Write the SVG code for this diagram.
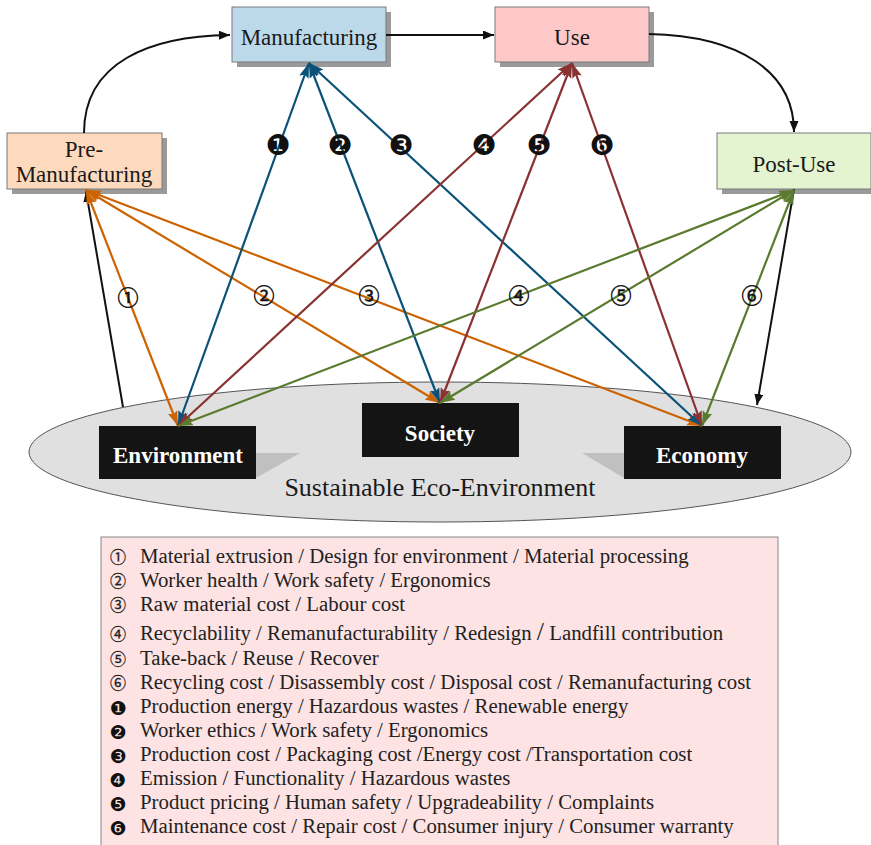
<svg xmlns="http://www.w3.org/2000/svg" width="871" height="845" viewBox="0 0 871 845">
  <style>
    .box { stroke: #7a7a7a; stroke-width: 1; }
    .shadow { fill: #9a9a9a; }
    .lbl { font-family: "Liberation Serif", "Times New Roman", serif; font-size: 23px; fill: #1a1a1a; text-anchor: middle; }
    .pillar { fill: #141414; }
    .pillar-lbl { font-family: "Liberation Serif", "Times New Roman", serif; font-size: 23px; font-weight: bold; fill: #ffffff; text-anchor: middle; }
    .flow { fill: none; stroke: #111111; stroke-width: 2; }
    .or { fill: none; stroke: #cc6200; stroke-width: 2.2; marker-start: url(#ah-or); marker-end: url(#ah-or); }
    .bl { fill: none; stroke: #0b5278; stroke-width: 2.2; marker-start: url(#ah-bl); marker-end: url(#ah-bl); }
    .rd { fill: none; stroke: #8a3232; stroke-width: 2.2; marker-start: url(#ah-rd); marker-end: url(#ah-rd); }
    .gr { fill: none; stroke: #5a7a2e; stroke-width: 2.2; marker-start: url(#ah-gr); marker-end: url(#ah-gr); }
    .num-o { font-family: "Noto Sans CJK JP", "DejaVu Sans", sans-serif; font-size: 21px; fill: #111111; stroke: #111111; stroke-width: 0.5; text-anchor: middle; }
    .num-f { font-family: "DejaVu Sans", "Noto Sans CJK JP", sans-serif; font-size: 28px; fill: #111111; text-anchor: middle; }
    .leg { font-family: "Liberation Serif", "Times New Roman", serif; font-size: 20.8px; fill: #222222; }
    .leg-o { font-family: "Noto Sans CJK JP", "DejaVu Sans", sans-serif; font-size: 16px; fill: #222222; stroke: #222222; stroke-width: 0.3; text-anchor: middle; }
    .leg-f { font-family: "DejaVu Sans", "Noto Sans CJK JP", sans-serif; font-size: 19px; fill: #111111; text-anchor: middle; }
  </style>
  <defs>
    <marker id="ah-k" markerUnits="userSpaceOnUse" markerWidth="12" markerHeight="10" refX="11" refY="4.5" orient="auto-start-reverse">
      <path d="M0,0 L11,4.5 L0,9 Z" fill="#111111"/>
    </marker>
    <marker id="ah-or" markerUnits="userSpaceOnUse" markerWidth="16" markerHeight="11" refX="15" refY="5" orient="auto-start-reverse">
      <path d="M0,0 L15,5 L0,10 L2.5,5 Z" fill="#cc6200"/>
    </marker>
    <marker id="ah-bl" markerUnits="userSpaceOnUse" markerWidth="16" markerHeight="11" refX="15" refY="5" orient="auto-start-reverse">
      <path d="M0,0 L15,5 L0,10 L2.5,5 Z" fill="#0b5278"/>
    </marker>
    <marker id="ah-rd" markerUnits="userSpaceOnUse" markerWidth="16" markerHeight="11" refX="15" refY="5" orient="auto-start-reverse">
      <path d="M0,0 L15,5 L0,10 L2.5,5 Z" fill="#8a3232"/>
    </marker>
    <marker id="ah-gr" markerUnits="userSpaceOnUse" markerWidth="16" markerHeight="11" refX="15" refY="5" orient="auto-start-reverse">
      <path d="M0,0 L15,5 L0,10 L2.5,5 Z" fill="#5a7a2e"/>
    </marker>
  </defs>

  <rect width="871" height="845" fill="#ffffff"/>

  <!-- eco-environment base -->
  <g id="eco-environment">
    <ellipse cx="440" cy="452" rx="411" ry="70" fill="#e0e0e0" stroke="#555555" stroke-width="1"/>
    <text class="lbl" x="440" y="496" style="font-size:26px">Sustainable Eco-Environment</text>
  </g>

  <!-- life-cycle stages -->
  <g id="pre-manufacturing">
    <rect class="shadow" x="12" y="138" width="155" height="56"/>
    <rect class="box" x="7" y="133" width="155" height="56" fill="#fdd9bd"/>
    <text class="lbl" x="84" y="157">Pre-</text>
    <text class="lbl" x="84" y="182">Manufacturing</text>
  </g>
  <g id="manufacturing">
    <rect class="shadow" x="237" y="12" width="154" height="55"/>
    <rect class="box" x="232" y="7" width="154" height="55" fill="#bcd9ea"/>
    <text class="lbl" x="309" y="45">Manufacturing</text>
  </g>
  <g id="use">
    <rect class="shadow" x="500" y="12" width="154" height="55"/>
    <rect class="box" x="495" y="7" width="154" height="55" fill="#ffc8c8"/>
    <text class="lbl" x="572" y="45">Use</text>
  </g>
  <g id="post-use">
    <rect class="shadow" x="722" y="138" width="154" height="56"/>
    <rect class="box" x="717" y="133" width="154" height="56" fill="#e4f3d0"/>
    <text class="lbl" x="794" y="172">Post-Use</text>
  </g>

  <!-- sustainability pillars -->
  <g id="environment">
    <polygon points="256,453 300,453 256,478" fill="#c0c0c0"/>
    <rect class="pillar" x="99" y="426" width="157" height="53"/>
    <text class="pillar-lbl" x="178" y="463">Environment</text>
  </g>
  <g id="society">
    <rect class="pillar" x="362" y="403" width="157" height="54"/>
    <text class="pillar-lbl" x="440" y="441">Society</text>
  </g>
  <g id="economy">
    <polygon points="582,453 624,453 624,478" fill="#c0c0c0"/>
    <rect class="pillar" x="624" y="426" width="157" height="53"/>
    <text class="pillar-lbl" x="702" y="463">Economy</text>
  </g>

  <!-- connectors -->
  <g id="connectors">
    <!-- life-cycle flow -->
    <path class="flow" d="M84,133 C84,62 150,36 230,35" marker-end="url(#ah-k)"/>
    <path class="flow" d="M386,35 L494,35" marker-end="url(#ah-k)"/>
    <path class="flow" d="M649,34 C740,36 794,72 794,132" marker-end="url(#ah-k)"/>
    <path class="flow" d="M794,189 L757,405" marker-end="url(#ah-k)"/>
    <path class="flow" d="M123,407 L86,191" marker-end="url(#ah-k)"/>

    <!-- pre-manufacturing links -->
    <path class="or" d="M86,190 L178,426"/>
    <path class="or" d="M86,190 L440,403"/>
    <path class="or" d="M86,190 L702,426"/>
    <!-- manufacturing links -->
    <path class="bl" d="M309,63 L178,426"/>
    <path class="bl" d="M309,63 L440,403"/>
    <path class="bl" d="M309,63 L702,426"/>
    <!-- use links -->
    <path class="rd" d="M572,63 L178,426"/>
    <path class="rd" d="M572,63 L440,403"/>
    <path class="rd" d="M572,63 L702,426"/>
    <!-- post-use links -->
    <path class="gr" d="M794,190 L178,426"/>
    <path class="gr" d="M794,190 L440,403"/>
    <path class="gr" d="M794,190 L702,426"/>
  </g>

  <!-- link labels -->
  <g id="link-labels">
    <text class="num-f" x="278" y="155">❶</text>
    <text class="num-f" x="340" y="155">❷</text>
    <text class="num-f" x="401" y="155">❸</text>
    <text class="num-f" x="484" y="155">❹</text>
    <text class="num-f" x="539" y="155">❺</text>
    <text class="num-f" x="602" y="155">❻</text>
    <text class="num-o" x="128" y="305">①</text>
    <text class="num-o" x="264" y="303">②</text>
    <text class="num-o" x="369" y="303">③</text>
    <text class="num-o" x="519" y="303">④</text>
    <text class="num-o" x="621" y="303">⑤</text>
    <text class="num-o" x="752" y="303">⑥</text>
  </g>

  <!-- legend -->
  <g id="legend">
    <rect x="101" y="537" width="677" height="320" fill="#fde3e3" stroke="#888888" stroke-width="1"/>
    <text class="leg-o" x="118" y="563">①</text>
    <text class="leg" x="140" y="563">Material extrusion / Design for environment / Material processing</text>
    <text class="leg-o" x="118" y="587">②</text>
    <text class="leg" x="140" y="587">Worker health / Work safety / Ergonomics</text>
    <text class="leg-o" x="118" y="611">③</text>
    <text class="leg" x="140" y="611">Raw material cost / Labour cost</text>
    <text class="leg-o" x="118" y="640">④</text>
    <text class="leg" x="140" y="640">Recyclability / Remanufacturability / Redesign <tspan style="font-size:26px">/</tspan> Landfill contribution</text>
    <text class="leg-o" x="118" y="665">⑤</text>
    <text class="leg" x="140" y="665">Take-back / Reuse / Recover</text>
    <text class="leg-o" x="118" y="689">⑥</text>
    <text class="leg" x="140" y="689">Recycling cost / Disassembly cost / Disposal cost / Remanufacturing cost</text>
    <text class="leg-f" x="118" y="715">❶</text>
    <text class="leg" x="140" y="713">Production energy / Hazardous wastes / Renewable energy</text>
    <text class="leg-f" x="118" y="739">❷</text>
    <text class="leg" x="140" y="737">Worker ethics / Work safety / Ergonomics</text>
    <text class="leg-f" x="118" y="763">❸</text>
    <text class="leg" x="140" y="761">Production cost / Packaging cost /Energy cost /Transportation cost</text>
    <text class="leg-f" x="118" y="787">❹</text>
    <text class="leg" x="140" y="785">Emission / Functionality / Hazardous wastes</text>
    <text class="leg-f" x="118" y="811">❺</text>
    <text class="leg" x="140" y="809">Product pricing / Human safety / Upgradeability / Complaints</text>
    <text class="leg-f" x="118" y="835">❻</text>
    <text class="leg" x="140" y="833">Maintenance cost / Repair cost / Consumer injury / Consumer warranty</text>
  </g>
</svg>
